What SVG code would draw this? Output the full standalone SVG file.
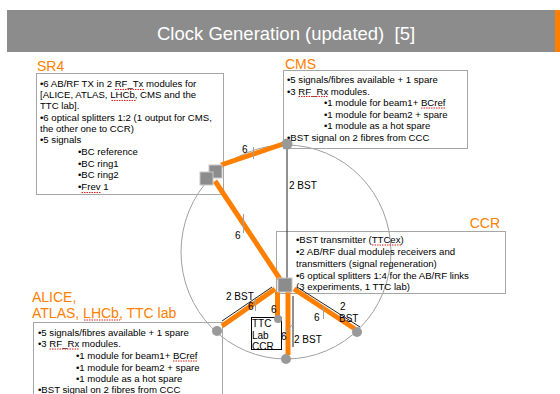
<svg xmlns="http://www.w3.org/2000/svg" width="560" height="394" viewBox="0 0 560 394">
<style>
text{font-family:"Liberation Sans",Arial,sans-serif}
.t{font-size:9.6px;fill:#000}
.lbl{font-size:14px;fill:#ff8000}
.box{fill:none;stroke:#a6a6a6;stroke-width:1}
.or{stroke:#ff8000;stroke-width:5;fill:none}
.bk{stroke:#222;stroke-width:1;fill:none}
.tick{stroke:#a0a0a0;stroke-width:1;fill:none}
.pt{fill:#999}
.sq{fill:#8c8c8c;stroke:#c8c8c8;stroke-width:1}
.sp{stroke:#e02020;stroke-width:1;stroke-dasharray:1.5 1;fill:none}
.n{font-size:10px;fill:#000}
</style>
<rect width="560" height="394" fill="#fff"/>
<g id="title">
<rect x="7" y="10" width="548" height="42" fill="#8c8c8c"/>
<rect x="555" y="10" width="5" height="42" fill="#ff8000"/>
<text x="157" y="39.5" font-size="18.5" fill="#fff" xml:space="preserve">Clock Generation (updated)  [5]</text>
</g>
<g id="ring">
<ellipse cx="286" cy="252" rx="105" ry="107" fill="none" stroke="#a0a0a0" stroke-width="1"/>
</g>
<g id="sr4">
<text class="lbl" x="37" y="71">SR4</text>
<rect class="box" x="36.5" y="73.5" width="187" height="121"/>
<text class="t" x="40" y="87">•6 AB/RF TX in 2 RF_Tx modules for</text>
<text class="t" x="40" y="98">[ALICE, ATLAS, LHCb, CMS and the</text>
<text class="t" x="40" y="109">TTC lab].</text>
<text class="t" x="40" y="121">•6 optical splitters 1:2 (1 output for CMS,</text>
<text class="t" x="40" y="132">the other one to CCR)</text>
<text class="t" x="40" y="143">•5 signals</text>
<text class="t" x="78" y="155">•BC reference</text>
<text class="t" x="78" y="167">•BC ring1</text>
<text class="t" x="78" y="178">•BC ring2</text>
<text class="t" x="78" y="190">•Frev 1</text>
<path class="sp" d="M115,89.5H144M111.5,100.5H136M81.5,192.5H101"/>
</g>
<g id="cms">
<text class="lbl" x="285" y="69">CMS</text>
<rect class="box" x="283.5" y="70.5" width="184" height="78"/>
<text class="t" x="287" y="82.5">•5 signals/fibres available + 1 spare</text>
<text class="t" x="287" y="94.5">•3 RF_Rx modules.</text>
<text class="t" x="324" y="106">•1 module for beam1+ BCref</text>
<text class="t" x="324" y="117.5">•1 module for beam2 + spare</text>
<text class="t" x="324" y="129">•1 module as a hot spare</text>
<text class="t" x="287" y="141">•BST signal on 2 fibres from CCC</text>
<path class="sp" d="M298.5,96.5H328M421,108H445.5"/>
</g>
<g id="ccr">
<text class="lbl" x="500" y="228" text-anchor="end">CCR</text>
<rect class="box" x="276.5" y="231.5" width="229" height="62"/>
<text class="t" x="296" y="243">•BST transmitter (TTCex)</text>
<text class="t" x="296" y="255">•2 AB/RF dual modules receivers and</text>
<text class="t" x="296" y="267">transmitters (signal regeneration)</text>
<text class="t" x="296" y="278.5">•6 optical splitters 1:4 for the AB/RF links</text>
<text class="t" x="296" y="289.5">(3 experiments, 1 TTC lab)</text>
<path class="sp" d="M372,245H401"/>
</g>
<g id="alice">
<text class="lbl" x="32" y="301.5">ALICE,</text>
<text class="lbl" x="32" y="317.5">ATLAS, LHCb, TTC lab</text>
<rect class="box" x="33.5" y="322.5" width="189" height="80"/>
<text class="t" x="38" y="335.5">•5 signals/fibres available + 1 spare</text>
<text class="t" x="38" y="347">•3 RF_Rx modules.</text>
<text class="t" x="76" y="359">•1 module for beam1+ BCref</text>
<text class="t" x="76" y="370.5">•1 module for beam2 + spare</text>
<text class="t" x="76" y="382">•1 module as a hot spare</text>
<text class="t" x="38" y="393">•BST signal on 2 fibres from CCC</text>
<path class="sp" d="M84,320H120M49.5,349H79M173,361H197.5"/>
</g>
<g id="ttc-lab">
<rect x="251.5" y="317.5" width="30" height="32" fill="#fff" stroke="#000" stroke-width="1"/>
<text class="n" x="252" y="327">TTC</text>
<text class="n" x="252" y="338.5">Lab</text>
<text class="n" x="252" y="349.5">CCR</text>
</g>
<g id="connectors">
<path class="or" d="M221,165L283,144"/>
<path class="or" d="M215,181L280,279"/>
<path class="or" d="M275,289L222,326"/>
<path class="or" d="M277.5,292V316"/>
<path class="or" d="M288,292V355"/>
<path class="or" d="M294,289L355,329"/>
<path class="bk" d="M287,149V278"/>
<path class="bk" d="M272,287L222,321"/>
<path class="bk" d="M293,296V347"/>
<path class="bk" d="M297,287L360,327"/>
<path class="tick" d="M253.5,147V159M243.5,214V233M255.5,299V311M282,337L292,325M323.5,306V319"/>
<text class="n" x="242" y="153">6</text>
<text class="n" x="235" y="239">6</text>
<text class="n" x="248" y="310">6</text>
<text class="n" x="271" y="313">6</text>
<text class="n" x="281" y="340">6</text>
<text class="n" x="314" y="321">6</text>
<text class="n" x="289" y="189">2 BST</text>
<text class="n" x="226" y="300">2 BST</text>
<text class="n" x="294" y="343">2 BST</text>
<text class="n" x="340" y="310">2</text>
<text class="n" x="339" y="322">BST</text>
</g>
<g id="sr4-splitters">
<rect class="sq" x="209" y="165" width="13" height="13"/>
<rect class="sq" x="200" y="172" width="13" height="13"/>
</g>
<g id="ccr-splitter">
<rect class="sq" x="278" y="278" width="14" height="14"/>
</g>
<g id="points">
<circle class="pt" cx="287" cy="144" r="5.5"/>
<circle class="pt" cx="217" cy="331" r="5"/>
<circle class="pt" cx="357" cy="332" r="5"/>
<circle class="pt" cx="286" cy="359" r="5"/>
<circle class="pt" cx="278" cy="319" r="4"/>
</g>
</svg>
